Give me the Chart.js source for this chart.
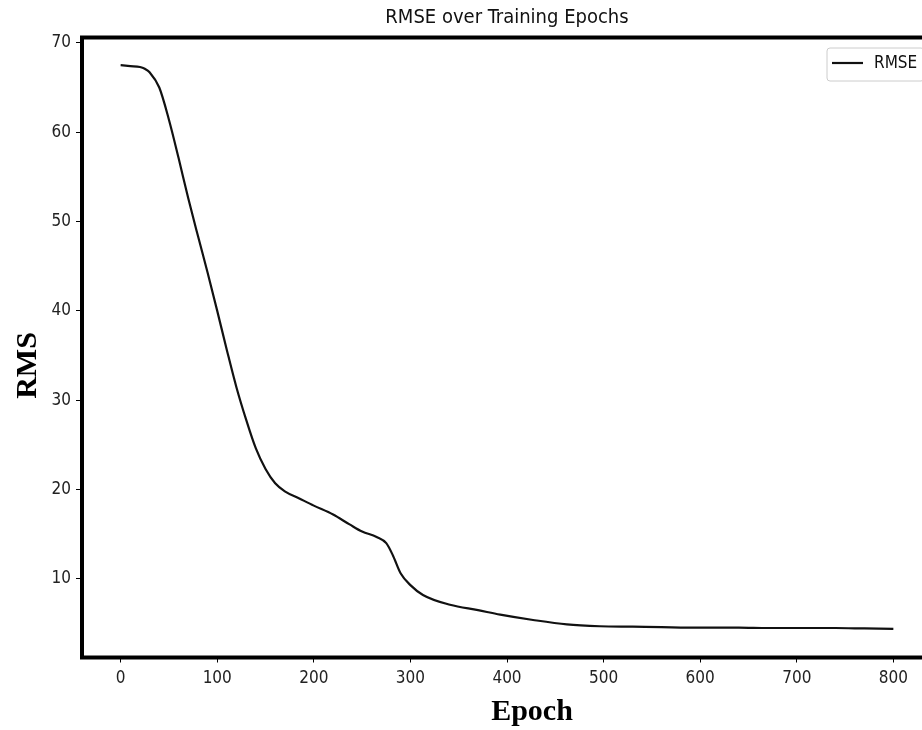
<!DOCTYPE html>
<html>
<head>
<meta charset="utf-8">
<title>RMSE over Training Epochs</title>
<script src="https://cdn.jsdelivr.net/npm/chart.js@4.4.1/dist/chart.umd.min.js"></script>
<style>
  html, body { margin: 0; padding: 0; background: #fff; overflow: hidden; }
  #wrap { width: 922px; height: 730px; overflow: hidden; }
</style>
</head>
<body>
<div id="wrap"><canvas id="rmse-history" width="940" height="730"></canvas></div>
<script>
"use strict";

// values
var epochs = [0, 10, 20, 25, 30, 40, 50, 60, 70, 80, 90, 100, 110, 120, 130, 140, 150, 160, 170, 185,
	200, 220, 237, 250, 265, 275, 282, 290, 300, 313, 341, 370, 393, 427, 462, 496, 530, 560, 600,
	640, 670, 704, 740, 770, 800];
var rmse = [67.5, 67.4, 67.3, 67.1, 66.7, 65.0, 61.4, 57.1, 52.6, 48.4, 44.3, 40.0, 35.6, 31.4, 27.8, 24.6,
	22.3, 20.7, 19.8, 19.0, 18.2, 17.2, 16.1, 15.3, 14.7, 14.0, 12.6, 10.6, 9.3, 8.2, 7.1, 6.5, 6.0,
	5.4, 4.9, 4.7, 4.65, 4.6, 4.55, 4.55, 4.5, 4.5, 4.5, 4.45, 4.4];
var xTicks = [0, 100, 200, 300, 400, 500, 600, 700, 800];
var yTicks = [10, 20, 30, 40, 50, 60, 70];
var seriesLabel = 'RMSE';

var sansFont = "'DejaVu Sans Condensed', 'DejaVu Sans', sans-serif";
var serifFont = "'Liberation Serif', 'Times New Roman', serif";

// frame, legend and the two bold axis labels
var decorPlugin = {
	id: 'decor',
	afterDatasetsDraw: function(chart){
		var ctx = chart.ctx;
		var a = chart.chartArea;
		ctx.save();

		// legend box
		var lx = a.right - 105, ly = a.top + 10.5, lw = 97, lh = 33;
		ctx.beginPath();
		ctx.roundRect(lx, ly, lw, lh, 3);
		ctx.fillStyle = 'rgba(255,255,255,0.9)';
		ctx.fill();
		ctx.strokeStyle = '#cccccc';
		ctx.lineWidth = 1;
		ctx.stroke();
		ctx.beginPath();
		ctx.moveTo(lx + 5, ly + 15);
		ctx.lineTo(lx + 36, ly + 15);
		ctx.strokeStyle = '#111';
		ctx.lineWidth = 2.2;
		ctx.stroke();
		ctx.fillStyle = '#111';
		ctx.font = '17px ' + sansFont;
		ctx.textBaseline = 'middle';
		ctx.textAlign = 'left';
		ctx.fillText(seriesLabel, lx + 47, ly + 16);

		// thick frame
		ctx.strokeStyle = '#000';
		ctx.lineWidth = 4;
		ctx.strokeRect(a.left, a.top, a.right - a.left, a.bottom - a.top);

		// axis labels
		ctx.font = 'bold 30px ' + serifFont;
		ctx.textAlign = 'center';
		ctx.textBaseline = 'alphabetic';
		ctx.fillStyle = '#000';
		ctx.fillText('Epoch', (a.left + a.right) / 2 + 25, a.bottom + 62);
		ctx.translate(a.left - 46, (a.top + a.bottom) / 2 + 18);
		ctx.rotate(-Math.PI / 2);
		ctx.fillText('RMS', 0, 0);
		ctx.restore();
	}
};

function rmseChart(){
	var ctx = document.getElementById("rmse-history");
	var points = epochs.map(function(e, i){ return { x: e, y: rmse[i] }; });
	var rmseHistory = new Chart(ctx, {
		type: 'line',
		data: {
			datasets: [{
				label: seriesLabel,
				data: points,
				borderColor: '#111111',
				borderWidth: 2.2,
				pointRadius: 0,
				fill: false,
				cubicInterpolationMode: 'monotone'
			}]
		},
		options: {
			responsive: false,
			animation: false,
			devicePixelRatio: 1,
			layout: { padding: { left: 0, right: 8, top: 0, bottom: 0 } },
			plugins: {
				legend: { display: false },
				tooltip: { enabled: false },
				title: {
					display: true,
					text: 'RMSE over Training Epochs',
					fullSize: false,
					color: '#111',
					font: { family: sansFont, size: 20, weight: 'normal' },
					padding: { top: 6, bottom: 7.5 }
				}
			},
			scales: {
				x: {
					type: 'linear',
					min: -40,
					max: 840,
					afterBuildTicks: function(scale){
						scale.ticks = xTicks.map(function(v){ return { value: v }; });
					},
					afterFit: function(scale){ scale.height = 72.5; },
					border: { display: false },
					grid: { drawOnChartArea: false, drawTicks: true, tickLength: 5, tickColor: '#000', tickWidth: 1 },
					ticks: { color: '#222', padding: 6, maxRotation: 0, font: { family: sansFont, size: 17 } }
				},
				y: {
					min: 1.2,
					max: 70.6,
					afterBuildTicks: function(scale){
						scale.ticks = yTicks.map(function(v){ return { value: v }; });
					},
					afterFit: function(scale){ scale.width = 82; },
					border: { display: false },
					grid: { drawOnChartArea: false, drawTicks: true, tickLength: 6, tickColor: '#000', tickWidth: 1 },
					ticks: { color: '#222', padding: 5, font: { family: sansFont, size: 17 } }
				}
			}
		},
		plugins: [decorPlugin]
	});
}

rmseChart();
</script>
</body>
</html>
